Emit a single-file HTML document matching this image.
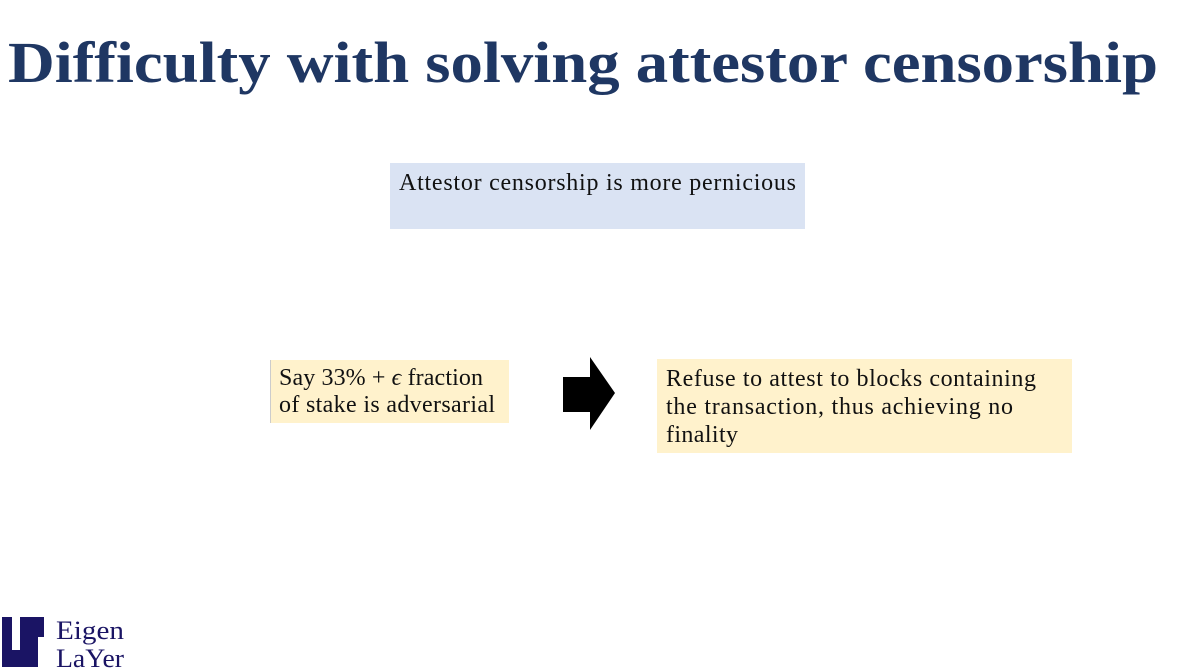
<!DOCTYPE html>
<html><head><meta charset="utf-8"><style>
body{margin:0;width:1192px;height:670px;background:#fff;overflow:hidden;position:relative;font-family:"Liberation Serif",serif}
</style></head><body>
<svg width="1192" height="670" style="position:absolute;left:0;top:0">
<text x="8" y="82" font-family="Liberation Serif" font-weight="bold" font-size="58" fill="#1f3763" textLength="1150" lengthAdjust="spacingAndGlyphs">Difficulty with solving attestor censorship</text>
<rect x="390" y="163" width="415" height="66" fill="#dae3f3"/>
<rect x="270" y="360" width="239" height="63" fill="#fff2cc"/>
<line x1="270.5" y1="360" x2="270.5" y2="423" stroke="#ccc"/>
<rect x="657" y="359" width="415" height="94" fill="#fff2cc"/>
<polygon points="563,377 590,377 590,357 615,393 590,430 590,412 563,412" fill="#000"/>
<g font-family="Liberation Serif" font-size="24" fill="#111" lengthAdjust="spacingAndGlyphs">
<text x="399" y="190" textLength="397">Attestor censorship is more pernicious</text>
<text x="279" y="385" textLength="204">Say 33% + <tspan font-style="italic">ϵ</tspan> fraction</text>
<text x="279" y="412" textLength="216">of stake is adversarial</text>
<text x="666" y="386" textLength="370">Refuse to attest to blocks containing</text>
<text x="666" y="414" textLength="347">the transaction, thus achieving no</text>
<text x="666" y="442" textLength="72">finality</text>
</g>
<g fill="#1a1464">
<rect x="2" y="617" width="10" height="50"/>
<rect x="12" y="650" width="26" height="17"/>
<rect x="20" y="617" width="10" height="33"/>
<rect x="30" y="627" width="8" height="23"/>
<rect x="30" y="617" width="14" height="10"/>
<rect x="38" y="627" width="6" height="10"/>
</g>
<text x="56" y="639" font-family="Liberation Serif" font-size="26" fill="#1a1464" textLength="68" lengthAdjust="spacingAndGlyphs">Eigen</text>
<text x="56" y="667" font-family="Liberation Serif" font-size="26" fill="#1a1464" textLength="68" lengthAdjust="spacingAndGlyphs">LaYer</text>
</svg>
</body></html>
